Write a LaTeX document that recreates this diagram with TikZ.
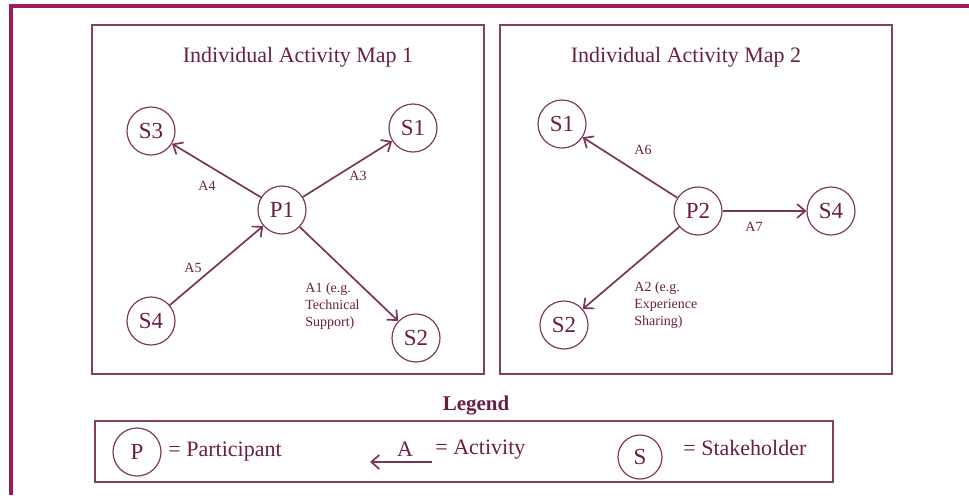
\documentclass[tikz,border=0pt]{standalone}
\usepackage{fontspec}
\setmainfont{Liberation Serif}
\usepackage{xcolor}
\usepackage{tikz}
\usetikzlibrary{arrows.meta,positioning}
\definecolor{plum}{HTML}{9E1B5E}
\definecolor{wine}{HTML}{6B1E45}
\definecolor{mauve}{HTML}{7E3A60}
\tikzset{
  >={Straight Barb[length=4pt,width=7pt]},
  actor/.style={circle,draw=mauve,line width=0.6pt,minimum size=24pt,inner sep=0pt,text=wine,font=\fontsize{11.5}{13}\selectfont},
  mapbox/.style={draw=wine!85,line width=0.75pt},
  maptitle/.style={text=wine,font=\fontsize{11}{13}\selectfont},
  act/.style={text=wine,font=\fontsize{7}{8.5}\selectfont,inner sep=0pt},
  flow/.style={->,line width=0.85pt,draw=wine!90},
  keytext/.style={text=wine,font=\fontsize{11}{13}\selectfont,anchor=west,inner sep=0pt}
}

\begin{document}
\begin{tikzpicture}[x=0.5pt,y=-0.5pt]
  \useasboundingbox (0,0) rectangle (969,495);
  % outer frame
  \draw[plum,line width=1.6pt] (11,495) -- (11,6) -- (969,6);

  % the two maps
  \draw[mapbox] (92,25) rectangle (484,374);
  \draw[mapbox] (500,25) rectangle (892,374);
  \node[maptitle] (title1) at (298,57) {Individual Activity Map 1};
  \node[maptitle] (title2) at (686,57) {Individual Activity Map 2};

  \foreach \n/\x/\y/\t in {p1/282/210/P1, m1s1/413/128/S1, m1s2/416/338/S2,
                           m1s3/151/131/S3, m1s4/151/321/S4,
                           p2/698/211/P2, m2s1/562/124/S1, m2s2/564/325/S2, m2s4/831/211/S4}
    \node[actor] (\n) at (\x,\y) {\t};

  \draw[flow] (p1) -- (m1s3);
  \draw[flow] (p1) -- (m1s1);
  \draw[flow] (m1s4) -- (p1);
  \draw[flow] (p1) -- (m1s2);
  \draw[flow] (p2) -- (m2s1);
  \draw[flow] (p2) -- (m2s4);
  \draw[flow] (p2) -- (m2s2);

  \node[act] (a4) at (207,186) {A4};
  \node[act] (a3) at (358,176) {A3};
  \node[act] (a5) at (193,268) {A5};
  \node[act,align=left,anchor=north west] (a1) at (305,282) {A1 (e.g.\\Technical\\Support)};
  \node[act] (a6) at (643,150) {A6};
  \node[act] (a7) at (754,227) {A7};
  \node[act,align=left,anchor=north west] (a2) at (634,281) {A2 (e.g.\\Experience\\Sharing)};

  % legend
  \node[text=wine,font=\bfseries\fontsize{10.5}{12}\selectfont] (legend) at (476,406) {Legend};
  \draw[mapbox] (95,421) rectangle (833,482);
  \node[actor] (keyp) at (137,452) {P};
  \node[keytext] (keyptxt) at (168,452) {= Participant};
  \coordinate (keyaR) at (432,462);
  \coordinate (keyaL) at (370,462);
  \draw[flow] (keyaR) -- (keyaL);
  \node[keytext,anchor=center] (keya) at (405,449) {A};
  \node[keytext] (keyatxt) at (435,450) {= Activity};
  \node[actor,minimum size=22pt] (keys) at (640,457) {S};
  \node[keytext] (keystxt) at (683,448) {= Stakeholder};
\end{tikzpicture}
\end{document}
